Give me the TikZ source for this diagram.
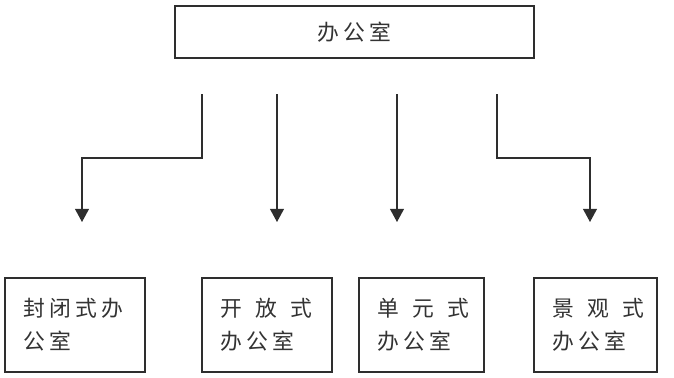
\documentclass[tikz,border=0pt]{standalone}
\usepackage{fontspec}
\newfontfamily\cjk[LetterSpace=20]{Noto Sans CJK SC}
\usepackage{tikz}
\usetikzlibrary{arrows.meta}
\definecolor{ofink}{HTML}{333333}
\definecolor{ofline}{HTML}{2E2E2E}
\definecolor{ofpage}{HTML}{FFFFFF}
\newcommand{\ofgap}{\kern0.6em\relax}
\tikzset{
  ofbox/.style={
    draw=ofline,
    line width=0.9pt,
    fill=ofpage,
    inner sep=0pt,
    font=\cjk\fontsize{15.5}{23.5}\selectfont,
    text=ofink
  },
  ofroot/.style={ofbox, align=center, minimum width=8.975cm,
    minimum height=1.3cm},
  ofleaf/.style={ofbox, align=left, inner xsep=4.6mm, text width=#1,
    minimum height=2.35cm},
  ofedge/.style={
    -{Triangle[length=3.3mm,width=3.5mm]},
    line width=0.9pt,
    color=ofline
  }
}
\begin{document}
\begin{tikzpicture}[x=1cm,y=1cm]
  \useasboundingbox (0,0) rectangle (16.85,9.425);

  \node[ofroot] (root) at (8.86,8.625) {办公室};

  \node[ofleaf=2.58cm]   (closed) at (1.875,1.3)   {封闭式办\\公室};
  \node[ofleaf=2.33cm]  (open)   at (6.675,1.3)   {开\ofgap 放\ofgap 式\\办公室};
  \node[ofleaf=2.205cm] (unit)   at (10.5375,1.3) {单\ofgap 元\ofgap 式\\办公室};
  \node[ofleaf=2.155cm] (scene)  at (14.8875,1.3) {景\ofgap 观\ofgap 式\\办公室};

  % free ends of the arrows
  \coordinate (s1) at (5.05,7.075);
  \coordinate (s2) at (6.925,7.075);
  \coordinate (s3) at (9.925,7.075);
  \coordinate (s4) at (12.425,7.075);
  \coordinate (e1) at (2.05,3.875);
  \coordinate (e2) at (6.925,3.875);
  \coordinate (e3) at (9.925,3.875);
  \coordinate (e4) at (14.75,3.875);

  \draw[ofedge] (s1) -- ++(0,-1.6) -| (e1);
  \draw[ofedge] (s2) -- (e2);
  \draw[ofedge] (s3) -- (e3);
  \draw[ofedge] (s4) -- ++(0,-1.6) -| (e4);
\end{tikzpicture}
\end{document}
